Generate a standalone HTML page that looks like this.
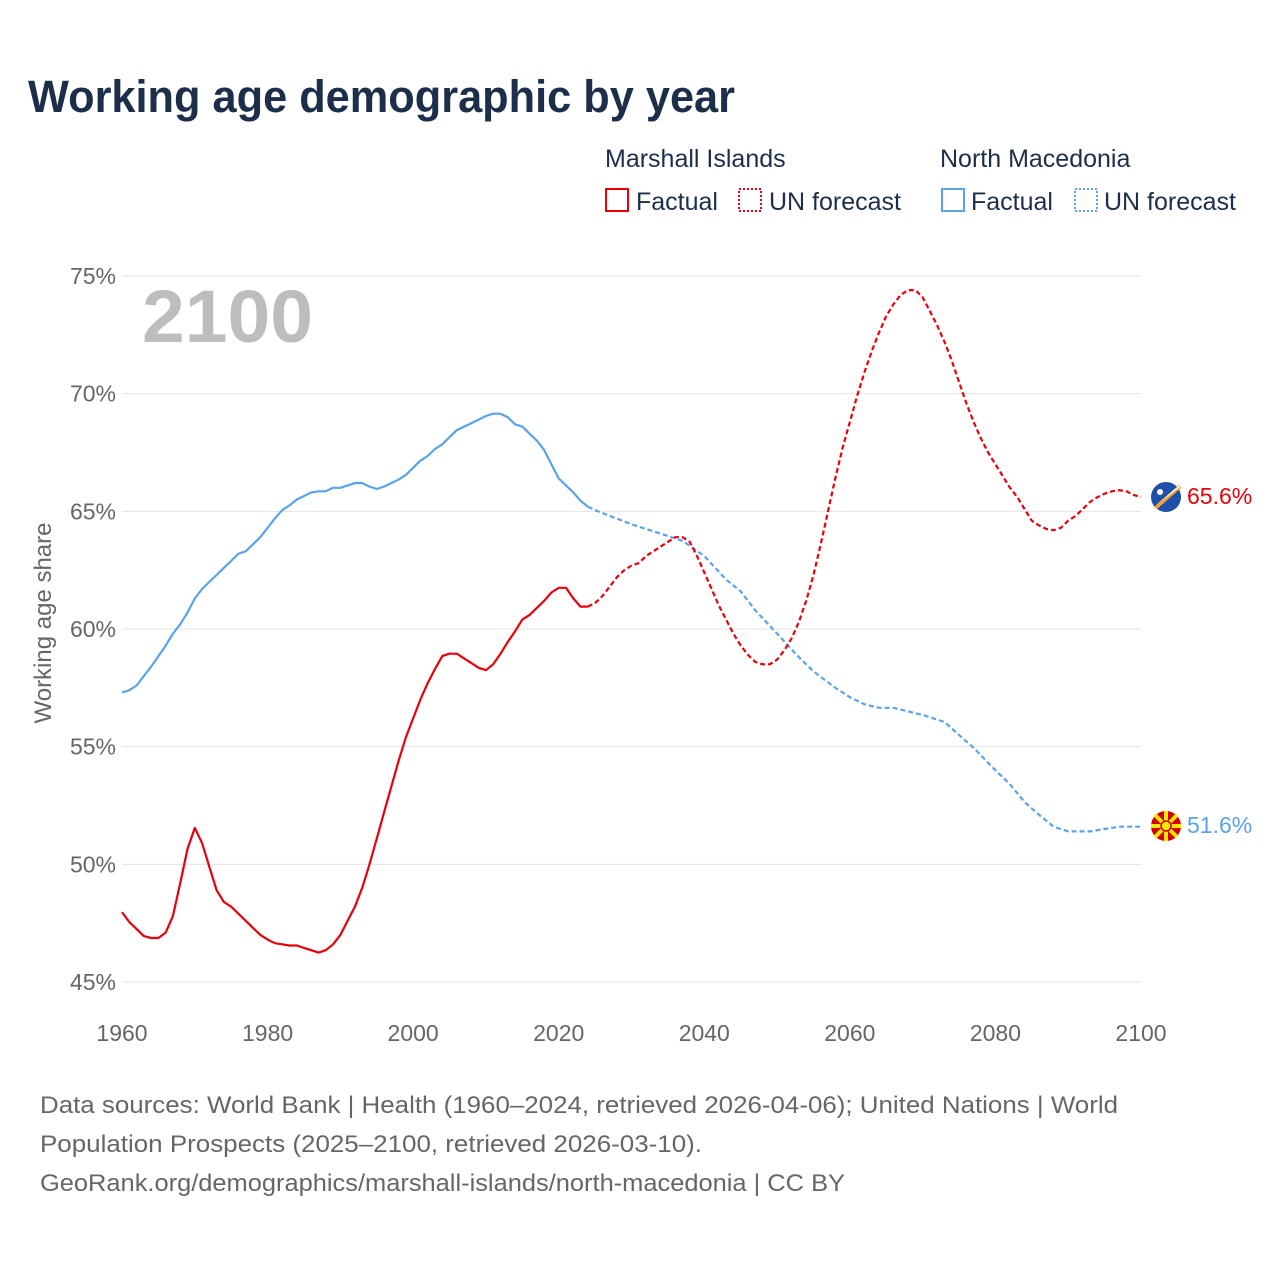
<!DOCTYPE html>
<html><head><meta charset="utf-8"><style>
body{margin:0;background:#fff;width:1280px;height:1280px;overflow:hidden;font-family:"Liberation Sans",sans-serif}
</style></head><body>
<svg width="1280" height="1280" viewBox="0 0 1280 1280">
<text x="28" y="112" font-size="45" font-weight="bold" fill="#1c2e4a" textLength="707" lengthAdjust="spacingAndGlyphs">Working age demographic by year</text>
<g font-size="25" fill="#1c2e4a">
<text x="605" y="167">Marshall Islands</text>
<text x="940" y="167">North Macedonia</text>
<rect x="606" y="189" width="22" height="22" fill="none" stroke="#e8000b" stroke-width="2"/>
<text x="636" y="210">Factual</text>
<rect x="739" y="189" width="22" height="22" fill="none" stroke="#e8000b" stroke-width="2" stroke-dasharray="2 2"/>
<text x="769" y="210">UN forecast</text>
<rect x="942" y="189" width="22" height="22" fill="none" stroke="#5ba3e8" stroke-width="2"/>
<text x="971" y="210">Factual</text>
<rect x="1075" y="189" width="22" height="22" fill="none" stroke="#5ba3e8" stroke-width="2" stroke-dasharray="2 2"/>
<text x="1104" y="210">UN forecast</text>
</g>
<g id="grid"></g>
<text x="142" y="342" font-size="74" font-weight="bold" fill="#bdbdbd" textLength="171" lengthAdjust="spacingAndGlyphs">2100</text>
<text transform="translate(51,623) rotate(-90)" text-anchor="middle" font-size="24" fill="#666">Working age share</text>
<g id="series"></g>
<g>
<circle cx="1166" cy="497" r="15" fill="#1f4fa8"/>
<path d="M1154 507 L1180 484 L1181 488 L1157 509Z" fill="#f3a42c"/>
<path d="M1156 505 L1180 487 L1181 484Z" fill="#fff"/>
<circle cx="1160" cy="492" r="3" fill="#fff"/>
</g>
<g>
<circle cx="1166" cy="826" r="15" fill="#d20000"/>
<g stroke="#ffe600" stroke-width="4"><line x1="1151" y1="826" x2="1181" y2="826"/><line x1="1166" y1="811" x2="1166" y2="841"/><line x1="1155" y1="815" x2="1177" y2="837"/><line x1="1177" y1="815" x2="1155" y2="837"/></g>
<circle cx="1166" cy="826" r="5" fill="#ffe600" stroke="#d20000" stroke-width="1.5"/>
</g>
<text x="1187" y="504" font-size="23" fill="#e8000b">65.6%</text>
<text x="1187" y="833" font-size="23" fill="#5ba3e8">51.6%</text>
<g font-size="24" fill="#666">
<text x="40" y="1113" textLength="1078" lengthAdjust="spacingAndGlyphs">Data sources: World Bank | Health (1960–2024, retrieved 2026-04-06); United Nations | World</text>
<text x="40" y="1152" textLength="662" lengthAdjust="spacingAndGlyphs">Population Prospects (2025–2100, retrieved 2026-03-10).</text>
<text x="40" y="1191" textLength="805" lengthAdjust="spacingAndGlyphs">GeoRank.org/demographics/marshall-islands/north-macedonia | CC BY</text>
</g>
</svg>
<script>
const yTicks=[45,50,55,60,65,70,75];
const xTicks=[1960,1980,2000,2020,2040,2060,2080,2100];
const miFactYears=[1960,1961,1962,1963,1964,1965,1966,1967,1968,1969,1970,1971,1972,1973,1974,1975,1976,1977,1978,1979,1980,1981,1982,1983,1984,1985,1986,1987,1988,1989,1990,1991,1992,1993,1994,1995,1996,1997,1998,1999,2000,2001,2002,2003,2004,2005,2006,2007,2008,2009,2010,2011,2012,2013,2014,2015,2016,2017,2018,2019,2020,2021,2022,2023,2024];
const miFactVals=[47.97,47.55,47.25,46.95,46.87,46.87,47.1,47.8,49.2,50.65,51.55,50.9,49.9,48.9,48.4,48.2,47.9,47.6,47.3,47.0,46.8,46.65,46.6,46.55,46.55,46.45,46.35,46.25,46.35,46.6,47.0,47.6,48.2,49.0,50.0,51.1,52.2,53.3,54.4,55.4,56.2,57.0,57.7,58.3,58.85,58.95,58.95,58.75,58.55,58.35,58.25,58.5,58.95,59.45,59.9,60.4,60.6,60.9,61.2,61.55,61.75,61.75,61.3,60.95,60.95];
const miFcYears=[2024,2025,2026,2027,2028,2029,2030,2031,2032,2033,2034,2035,2036,2037,2038,2039,2040,2041,2042,2043,2044,2045,2046,2047,2048,2049,2050,2051,2052,2053,2054,2055,2056,2057,2058,2059,2060,2061,2062,2063,2064,2065,2066,2067,2068,2069,2070,2071,2072,2073,2074,2075,2076,2077,2078,2079,2080,2081,2082,2083,2084,2085,2086,2087,2088,2089,2090,2091,2092,2093,2094,2095,2096,2097,2098,2099,2100];
const miFcVals=[60.95,61.1,61.4,61.8,62.2,62.5,62.7,62.8,63.1,63.3,63.5,63.7,63.9,63.9,63.7,63.1,62.4,61.7,61.0,60.4,59.8,59.3,58.9,58.6,58.5,58.5,58.7,59.1,59.6,60.3,61.2,62.3,63.6,65.0,66.4,67.7,68.8,69.9,70.9,71.8,72.6,73.3,73.8,74.2,74.4,74.4,74.1,73.5,72.9,72.2,71.4,70.5,69.6,68.8,68.1,67.5,67.0,66.5,66.0,65.6,65.1,64.6,64.4,64.25,64.2,64.3,64.6,64.8,65.1,65.4,65.6,65.75,65.85,65.9,65.85,65.7,65.6];
const nmFactYears=miFactYears;
const nmFactVals=[57.3,57.4,57.6,58.0,58.4,58.85,59.3,59.8,60.2,60.7,61.3,61.7,62.0,62.3,62.6,62.9,63.2,63.3,63.6,63.9,64.3,64.7,65.05,65.25,65.5,65.65,65.8,65.85,65.85,66.0,66.0,66.1,66.2,66.2,66.05,65.95,66.05,66.2,66.35,66.55,66.85,67.15,67.35,67.65,67.85,68.15,68.45,68.6,68.75,68.9,69.05,69.15,69.15,69.0,68.7,68.6,68.3,68.0,67.6,67.0,66.4,66.1,65.8,65.45,65.2];
const nmFcYears=[2024,2025,2030,2035,2037,2040,2043,2045,2047,2050,2053,2055,2058,2060,2062,2064,2066,2068,2070,2073,2075,2077,2080,2082,2084,2086,2088,2090,2093,2095,2097,2100];
const nmFcVals=[65.2,65.05,64.45,63.95,63.75,63.1,62.1,61.6,60.8,59.8,58.8,58.2,57.5,57.1,56.8,56.65,56.65,56.5,56.35,56.05,55.5,54.95,54.0,53.4,52.65,52.1,51.6,51.4,51.4,51.5,51.6,51.6];

const NS='http://www.w3.org/2000/svg';
const X=y=>122+(y-1960)*(1019/140);
const Y=v=>276+(75-v)*(706/30);
const grid=document.getElementById('grid');
for(const t of yTicks){
  const l=document.createElementNS(NS,'line');
  l.setAttribute('x1',122);l.setAttribute('x2',1141);l.setAttribute('y1',Y(t));l.setAttribute('y2',Y(t));
  l.setAttribute('stroke','#e3e3e3');l.setAttribute('stroke-width','1');
  
  
  grid.appendChild(l);
  const tx=document.createElementNS(NS,'text');
  tx.setAttribute('x',116);tx.setAttribute('y',Y(t)+8);tx.setAttribute('text-anchor','end');
  tx.setAttribute('font-size','23');tx.setAttribute('fill','#666');tx.textContent=t+'%';
  
  
  grid.appendChild(tx);
}
for(const t of xTicks){
  const tx=document.createElementNS(NS,'text');
  tx.setAttribute('x',X(t));tx.setAttribute('y',1041);tx.setAttribute('text-anchor','middle');
  tx.setAttribute('font-size','23');tx.setAttribute('fill','#666');tx.textContent=t;
  
  
  grid.appendChild(tx);
}
const ser=document.getElementById('series');
function line(ys,vs,color,dash,name){
  const p=document.createElementNS(NS,'path');
  p.setAttribute('d',ys.map((y,i)=>(i?'L':'M')+X(y).toFixed(1)+' '+Y(vs[i]).toFixed(1)).join(' '));
  p.setAttribute('fill','none');p.setAttribute('stroke',color);p.setAttribute('stroke-width','2.2');
  p.setAttribute('stroke-linejoin','round');
  if(dash)p.setAttribute('stroke-dasharray','5 3');
  
  
  ser.appendChild(p);
}
line(nmFcYears,nmFcVals,'#5ba3e8',true,'nm-forecast-line');
line(nmFactYears,nmFactVals,'#5ba3e8',false,'nm-factual-line');
line(miFcYears,miFcVals,'#e8000b',true,'mi-forecast-line');
line(miFactYears,miFactVals,'#e8000b',false,'mi-factual-line');
</script>
</body></html>
